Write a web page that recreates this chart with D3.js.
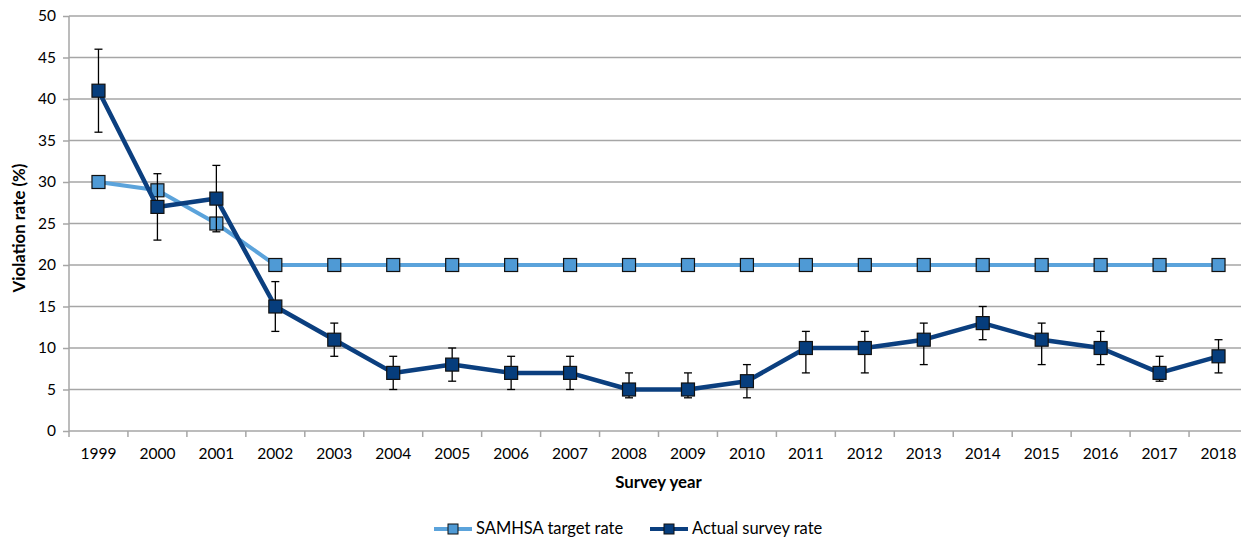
<!DOCTYPE html>
<html>
<head>
<meta charset="utf-8">
<script src="https://cdn.jsdelivr.net/npm/d3@7"></script>
<style>
  html, body { margin: 0; padding: 0; background: #fff; }
  svg text { font-family: Lato, "Open Sans", "Liberation Sans", sans-serif; fill: #000; }
</style>
</head>
<body>
<svg id="chart" width="1241" height="539"></svg>
<script>
// Survey years on the category axis
const years = ["1999","2000","2001","2002","2003","2004","2005","2006","2007","2008",
               "2009","2010","2011","2012","2013","2014","2015","2016","2017","2018"];
// SAMHSA target violation rate (%)
const targetRate = [30, 29, 25, 20, 20, 20, 20, 20, 20, 20, 20, 20, 20, 20, 20, 20, 20, 20, 20, 20];
// Actual survey violation rate (%) with confidence interval bounds
const actualRate = [41, 27, 28, 15, 11, 7, 8, 7, 7, 5, 5, 6, 10, 10, 11, 13, 11, 10, 7, 9];
const actualLow  = [36, 23, 24, 12, 9, 5, 6, 5, 5, 4, 4, 4, 7, 7, 8, 11, 8, 8, 6, 7];
const actualHigh = [46, 31, 32, 18, 13, 9, 10, 9, 9, 7, 7, 8, 12, 12, 13, 15, 13, 12, 9, 11];
const yTicks = [0, 5, 10, 15, 20, 25, 30, 35, 40, 45, 50];
const seriesNames = ["SAMHSA target rate", "Actual survey rate"];

const svg = d3.select("#chart");
const plotLeft = 69, plotRight = 1248, plotTop = 16, plotBottom = 431;

const x = d3.scaleBand().domain(years).range([plotLeft, plotRight]).padding(0);
const y = d3.scaleLinear().domain([0, 50]).range([plotBottom, plotTop]);
const cx = d => x(d) + x.bandwidth() / 2;

const gridColor = "#a6a6a6";

// Horizontal gridlines
svg.append("g")
  .selectAll("line")
  .data(yTicks.filter(t => t > 0))
  .join("line")
  .attr("x1", plotLeft).attr("x2", plotRight)
  .attr("y1", d => y(d)).attr("y2", d => y(d))
  .attr("stroke", gridColor).attr("stroke-width", 1.5);

// Y axis
const yAxis = svg.append("g")
  .attr("transform", `translate(${plotLeft},0)`)
  .call(d3.axisLeft(y).tickValues(yTicks).tickSize(6).tickPadding(6));
yAxis.select(".domain").attr("stroke", gridColor).attr("stroke-width", 1.5).attr("d", `M0,${y(50)}V${plotBottom}`);
yAxis.selectAll(".tick line").attr("stroke", gridColor).attr("stroke-width", 1.5);
yAxis.selectAll(".tick text").style("font-size", "15.5px").attr("x", -13);

// X axis: ticks between categories
const xAxis = svg.append("g")
  .attr("transform", `translate(0,${plotBottom})`);
xAxis.append("line")
  .attr("x1", plotLeft).attr("x2", plotRight)
  .attr("y1", 0).attr("y2", 0)
  .attr("stroke", gridColor).attr("stroke-width", 1.5);
const tickPos = years.map(d => x(d)).concat([x(years[years.length - 1]) + x.bandwidth()]);
xAxis.selectAll("line.tk")
  .data(tickPos)
  .join("line")
  .attr("class", "tk")
  .attr("x1", d => d).attr("x2", d => d)
  .attr("y1", 0).attr("y2", 6)
  .attr("stroke", gridColor).attr("stroke-width", 1.5);
xAxis.selectAll("text")
  .data(years)
  .join("text")
  .attr("x", d => cx(d))
  .attr("y", 28)
  .attr("text-anchor", "middle")
  .style("font-size", "15.5px")
  .text(d => d);

// Axis titles
svg.append("text")
  .attr("transform", `translate(25,228) rotate(-90)`)
  .attr("text-anchor", "middle")
  .style("font-size", "16.8px").style("font-weight", "bold")
  .text("Violation rate (%)");
svg.append("text")
  .attr("x", (plotLeft + plotRight) / 2).attr("y", 488)
  .attr("text-anchor", "middle")
  .style("font-size", "16.8px").style("font-weight", "bold")
  .text("Survey year");

const lightBlue = "#5ba3db";
const lightFill = "#4f9ad5";
const darkBlue = "#0b3f7f";
const darkFill = "#063d7c";

const line = d3.line().x((d, i) => cx(years[i])).y(d => y(d));

// Target series line
svg.append("path")
  .datum(targetRate)
  .attr("d", line)
  .attr("fill", "none").attr("stroke", lightBlue).attr("stroke-width", 4)
  .attr("stroke-linejoin", "round");

// Target markers
const ms = 13;
svg.append("g").selectAll("rect")
  .data(targetRate)
  .join("rect")
  .attr("x", (d, i) => cx(years[i]) - ms / 2)
  .attr("y", d => y(d) - ms / 2)
  .attr("width", ms).attr("height", ms)
  .attr("fill", lightFill).attr("stroke", "#111").attr("stroke-width", 1.2);

// Actual series line
svg.append("path")
  .datum(actualRate)
  .attr("d", line)
  .attr("fill", "none").attr("stroke", darkBlue).attr("stroke-width", 4.5)
  .attr("stroke-linejoin", "round");

// Error bars for the actual rate
const eb = svg.append("g").attr("stroke", "#000").attr("stroke-width", 1.3);
years.forEach((yr, i) => {
  const xc = cx(yr);
  eb.append("line").attr("x1", xc).attr("x2", xc).attr("y1", y(actualLow[i])).attr("y2", y(actualHigh[i]));
  eb.append("line").attr("x1", xc - 4).attr("x2", xc + 4).attr("y1", y(actualLow[i])).attr("y2", y(actualLow[i]));
  eb.append("line").attr("x1", xc - 4).attr("x2", xc + 4).attr("y1", y(actualHigh[i])).attr("y2", y(actualHigh[i]));
});

// Actual markers
svg.append("g").selectAll("rect")
  .data(actualRate)
  .join("rect")
  .attr("x", (d, i) => cx(years[i]) - ms / 2)
  .attr("y", d => y(d) - ms / 2)
  .attr("width", ms).attr("height", ms)
  .attr("fill", darkFill).attr("stroke", "#111").attr("stroke-width", 1.2);

// Legend
const legend = svg.append("g");
const legendItems = [
  { name: seriesNames[0], x0: 434, stroke: lightBlue, fill: lightFill },
  { name: seriesNames[1], x0: 650, stroke: darkBlue, fill: darkFill }
];
legendItems.forEach(it => {
  const ly = 529;
  legend.append("line").attr("x1", it.x0).attr("x2", it.x0 + 38)
    .attr("y1", ly).attr("y2", ly)
    .attr("stroke", it.stroke).attr("stroke-width", 4);
  legend.append("rect").attr("x", it.x0 + 19 - 5).attr("y", ly - 5)
    .attr("width", 10).attr("height", 10)
    .attr("fill", it.fill).attr("stroke", "#111").attr("stroke-width", 1);
  legend.append("text").attr("x", it.x0 + 42).attr("y", ly + 5)
    .style("font-size", "16.5px").text(it.name);
});
</script>
</body>
</html>
